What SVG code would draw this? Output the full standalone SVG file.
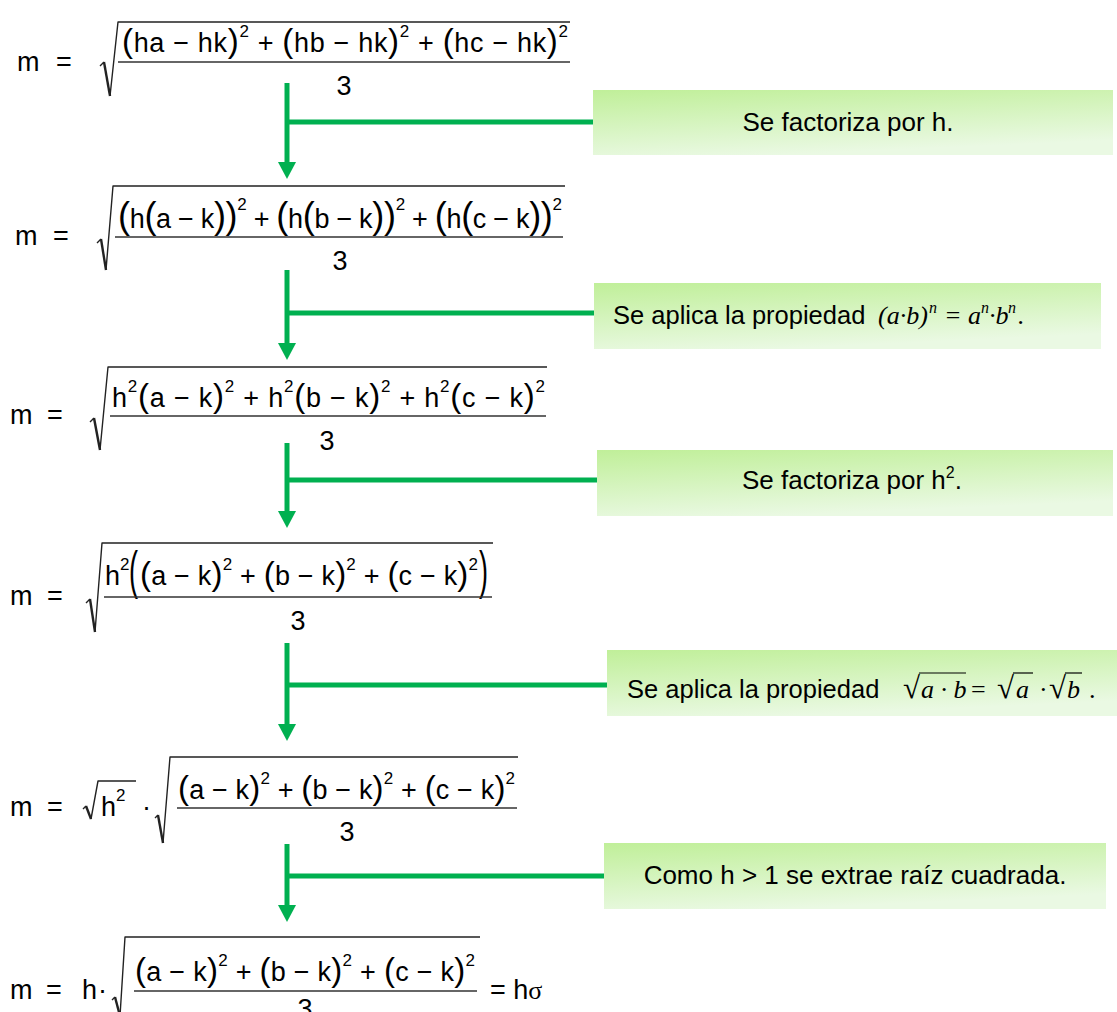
<svg xmlns="http://www.w3.org/2000/svg" width="1117" height="1012" viewBox="0 0 1117 1012">
<style>
.f{font-family:"Liberation Sans",Arial,sans-serif;font-size:27px;fill:#000}
.s{font-size:17px}
.p{font-size:33px}
.p2{font-size:36px}
.bt{font-family:"Liberation Sans",Arial,sans-serif;font-size:26px;fill:#000}
.bs{font-size:25.5px}
.ti{font-family:"Liberation Serif","Times New Roman",serif;font-style:italic;font-size:26px}
.tr{font-family:"Liberation Serif","Times New Roman",serif;font-size:26px}
.tsup{font-size:16px}
.rg{font-size:31px}
.rad{fill:none;stroke:#222;stroke-width:1.4;stroke-linejoin:round}
.radk{fill:none;stroke:#222;stroke-width:2.4}
.bar{stroke:#333;stroke-width:1.6}
.con{stroke:#00b050;stroke-width:5;fill:none}
.box{fill:url(#g)}
.ovl{stroke:#000;stroke-width:1.2}
</style>
<defs>
<linearGradient id="g" x1="0" y1="0" x2="0.35" y2="1">
<stop offset="0" stop-color="#c0ef99"/>
<stop offset="1" stop-color="#eaf9e3"/>
</linearGradient>
<marker id="ah" markerUnits="userSpaceOnUse" viewBox="0 0 17 18" markerWidth="17" markerHeight="18" refX="0" refY="9" orient="auto">
<path d="M0,0 L17,9 L0,18 Z" fill="#00b050"/>
</marker>
</defs>
<rect width="1117" height="1012" fill="#fff"/>

<g id="connectors">
<path class="con" d="M287,83 V162" marker-end="url(#ah)"/>
<path class="con" d="M287,122 H593"/>
<path class="con" d="M287,270 V343" marker-end="url(#ah)"/>
<path class="con" d="M287,313 H594"/>
<path class="con" d="M287,443 V511" marker-end="url(#ah)"/>
<path class="con" d="M287,480 H597"/>
<path class="con" d="M287,643 V724" marker-end="url(#ah)"/>
<path class="con" d="M287,685 H607"/>
<path class="con" d="M287,844 V905" marker-end="url(#ah)"/>
<path class="con" d="M287,876 H604"/>
</g>

<g id="eq1">
<text class="f" x="17" y="71">m</text>
<text class="f" x="56" y="71">=</text>
<path class="rad" d="M100,66 L104,62 M110,96 L118,22 H570"/>
<path class="radk" d="M104,62 L110,96"/>
<text class="f" x="122" y="52" textLength="446" lengthAdjust="spacing"><tspan class="p">(</tspan>ha − hk<tspan class="p">)</tspan><tspan class="s" dy="-15">2</tspan><tspan dy="15"> + </tspan><tspan class="p">(</tspan>hb − hk<tspan class="p">)</tspan><tspan class="s" dy="-15">2</tspan><tspan dy="15"> + </tspan><tspan class="p">(</tspan>hc − hk<tspan class="p">)</tspan><tspan class="s" dy="-15">2</tspan></text>
<line class="bar" x1="118" y1="62" x2="570" y2="62"/>
<text class="f" x="344" y="95" text-anchor="middle">3</text>
</g>

<g id="eq2">
<text class="f" x="15" y="245">m</text>
<text class="f" x="53" y="245">=</text>
<path class="rad" d="M97,243 L101,239 M106,270 L113,186 H565"/>
<path class="radk" d="M101,239 L106,270"/>
<text class="f" x="118" y="228" textLength="444" lengthAdjust="spacing"><tspan class="p2">(</tspan>h<tspan class="p2">(</tspan>a − k<tspan class="p2">))</tspan><tspan class="s" dy="-18">2</tspan><tspan dy="18"> + </tspan><tspan class="p2">(</tspan>h<tspan class="p2">(</tspan>b − k<tspan class="p2">))</tspan><tspan class="s" dy="-18">2</tspan><tspan dy="18"> + </tspan><tspan class="p2">(</tspan>h<tspan class="p2">(</tspan>c − k<tspan class="p2">))</tspan><tspan class="s" dy="-18">2</tspan></text>
<line class="bar" x1="115" y1="237" x2="563" y2="237"/>
<text class="f" x="340" y="270" text-anchor="middle">3</text>
</g>

<g id="eq3">
<text class="f" x="10" y="424">m</text>
<text class="f" x="47" y="424">=</text>
<path class="rad" d="M90,422 L94,418 M100,450 L108,367 H547"/>
<path class="radk" d="M94,418 L100,450"/>
<text class="f" x="112" y="407" textLength="433" lengthAdjust="spacing">h<tspan class="s" dy="-15">2</tspan><tspan class="p" dy="15">(</tspan>a − k<tspan class="p">)</tspan><tspan class="s" dy="-15">2</tspan><tspan dy="15"> + h</tspan><tspan class="s" dy="-15">2</tspan><tspan class="p" dy="15">(</tspan>b − k<tspan class="p">)</tspan><tspan class="s" dy="-15">2</tspan><tspan dy="15"> + h</tspan><tspan class="s" dy="-15">2</tspan><tspan class="p" dy="15">(</tspan>c − k<tspan class="p">)</tspan><tspan class="s" dy="-15">2</tspan></text>
<line class="bar" x1="110" y1="416" x2="546" y2="416"/>
<text class="f" x="327" y="450" text-anchor="middle">3</text>
</g>

<g id="eq4">
<text class="f" x="10" y="605">m</text>
<text class="f" x="47" y="605">=</text>
<path class="rad" d="M86,603 L90,599 M95,632 L102,543 H493"/>
<path class="radk" d="M90,599 L95,632"/>
<text class="f" x="105" y="585">h<tspan class="s" dy="-15">2</tspan></text>
<text class="f" font-size="30" transform="translate(129,588) scale(1,1.95)">(</text>
<text class="f" x="140" y="585" textLength="338" lengthAdjust="spacing"><tspan class="p">(</tspan>a − k<tspan class="p">)</tspan><tspan class="s" dy="-15">2</tspan><tspan dy="15"> + </tspan><tspan class="p">(</tspan>b − k<tspan class="p">)</tspan><tspan class="s" dy="-15">2</tspan><tspan dy="15"> + </tspan><tspan class="p">(</tspan>c − k<tspan class="p">)</tspan><tspan class="s" dy="-15">2</tspan></text>
<text class="f" font-size="30" transform="translate(479,588) scale(1,1.95)">)</text>
<line class="bar" x1="104" y1="597" x2="492" y2="597"/>
<text class="f" x="298" y="630" text-anchor="middle">3</text>
</g>

<g id="eq5">
<text class="f" x="10" y="816">m</text>
<text class="f" x="47" y="816">=</text>
<path class="rad" d="M83,809 L86,806 M91,819 L98,781 H136"/>
<path class="radk" d="M86,806 L91,819"/>
<text class="f" x="101" y="816">h<tspan class="s" dy="-15">2</tspan></text>
<text class="f" x="142" y="816">·</text>
<path class="rad" d="M155,818 L158,815 M163,843 L170,757 H518"/>
<path class="radk" d="M158,815 L163,843"/>
<text class="f" x="178" y="799" textLength="337" lengthAdjust="spacing"><tspan class="p">(</tspan>a − k<tspan class="p">)</tspan><tspan class="s" dy="-15">2</tspan><tspan dy="15"> + </tspan><tspan class="p">(</tspan>b − k<tspan class="p">)</tspan><tspan class="s" dy="-15">2</tspan><tspan dy="15"> + </tspan><tspan class="p">(</tspan>c − k<tspan class="p">)</tspan><tspan class="s" dy="-15">2</tspan></text>
<line class="bar" x1="177" y1="808" x2="517" y2="808"/>
<text class="f" x="347" y="841" text-anchor="middle">3</text>
</g>

<g id="eq6">
<text class="f" x="10" y="999">m</text>
<text class="f" x="46" y="999">=</text>
<text class="f" x="82" y="999">h</text>
<text class="f" x="98" y="999">·</text>
<path class="rad" d="M112,1000 L115,997 M120,1016 L125,937 H480"/>
<path class="radk" d="M115,997 L120,1016"/>
<text class="f" x="135" y="981" textLength="340" lengthAdjust="spacing"><tspan class="p">(</tspan>a − k<tspan class="p">)</tspan><tspan class="s" dy="-15">2</tspan><tspan dy="15"> + </tspan><tspan class="p">(</tspan>b − k<tspan class="p">)</tspan><tspan class="s" dy="-15">2</tspan><tspan dy="15"> + </tspan><tspan class="p">(</tspan>c − k<tspan class="p">)</tspan><tspan class="s" dy="-15">2</tspan></text>
<line class="bar" x1="134" y1="991" x2="477" y2="991"/>
<text class="f" x="305" y="1018" text-anchor="middle">3</text>
<text class="f" x="490" y="999">= h<tspan class="tr" font-size="27">σ</tspan></text>
</g>

<g id="note1">
<rect class="box" x="593" y="90" width="520" height="65"/>
<text class="bt" x="848" y="131" text-anchor="middle">Se factoriza por h.</text>
</g>

<g id="note2">
<rect class="box" x="594" y="283" width="507" height="66"/>
<text class="bt bs" x="613" y="324">Se aplica la propiedad</text>
<text class="ti" y="324"><tspan x="878">(a·b)</tspan><tspan class="tsup" x="929" dy="-11">n</tspan><tspan class="tr" x="944" dy="11">=</tspan><tspan x="968">a</tspan><tspan class="tsup" x="981" dy="-11">n</tspan><tspan x="989" dy="11">·b</tspan><tspan class="tsup" x="1008" dy="-11">n</tspan><tspan class="tr" x="1018" dy="11">.</tspan></text>
</g>

<g id="note3">
<rect class="box" x="597" y="450" width="516" height="66"/>
<text class="bt" x="852" y="489" text-anchor="middle">Se factoriza por h<tspan class="tsup" dy="-11">2</tspan><tspan dy="11">.</tspan></text>
</g>

<g id="note4">
<rect class="box" x="607" y="650" width="510" height="66"/>
<text class="bt bs" x="627" y="698">Se aplica la propiedad</text>
<text class="tr" y="698"><tspan class="rg" x="903">√</tspan><tspan class="ti" x="921">a · b</tspan><tspan x="971">=</tspan><tspan class="rg" x="997">√</tspan><tspan class="ti" x="1016">a</tspan><tspan x="1039">·</tspan><tspan class="rg" x="1049">√</tspan><tspan class="ti" x="1067">b</tspan><tspan x="1089">.</tspan></text>
<line class="ovl" x1="919" y1="673" x2="966" y2="673"/>
<line class="ovl" x1="1013" y1="673" x2="1033" y2="673"/>
<line class="ovl" x1="1065" y1="673" x2="1082" y2="673"/>
</g>

<g id="note5">
<rect class="box" x="604" y="843" width="502" height="66"/>
<text class="bt" x="855" y="884" text-anchor="middle" font-size="26.5">Como h &gt; 1 se extrae raíz cuadrada.</text>
</g>
</svg>
